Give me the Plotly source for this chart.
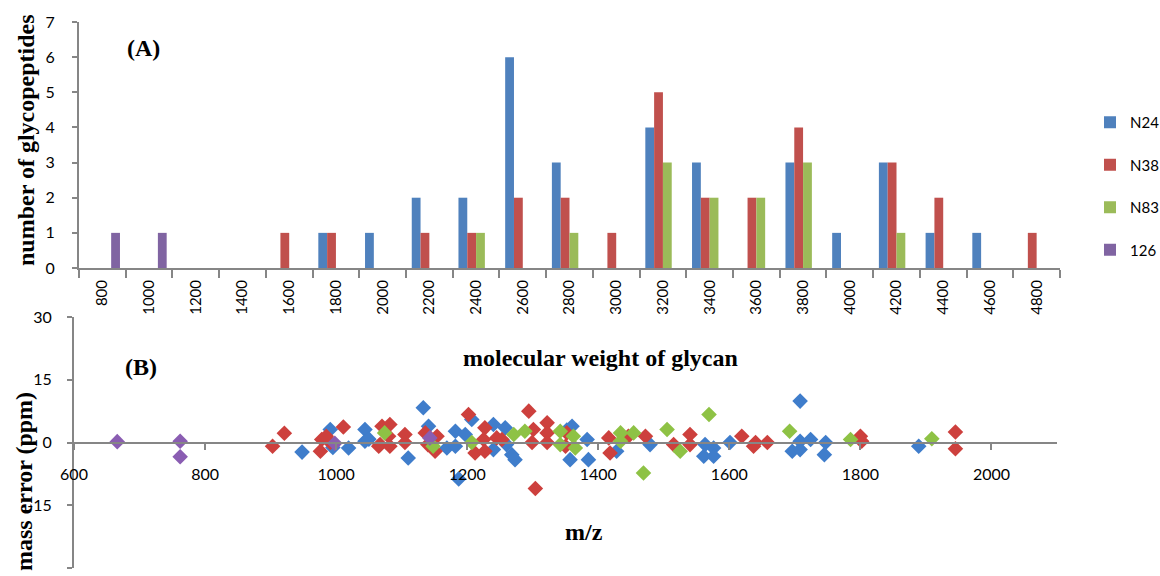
import plotly.graph_objects as go

# ---------------- data: panel A ----------------
mw_categories = ["800", "1000", "1200", "1400", "1600", "1800", "2000", "2200", "2400", "2600",
                 "2800", "3000", "3200", "3400", "3600", "3800", "4000", "4200", "4400", "4600", "4800"]
n24_counts = [0, 0, 0, 0, 0, 1, 1, 2, 2, 6, 3, 0, 4, 3, 0, 3, 1, 3, 1, 1, 0]
n38_counts = [0, 0, 0, 0, 1, 1, 0, 1, 1, 2, 2, 1, 5, 2, 2, 4, 0, 3, 2, 0, 1]
n83_counts = [0, 0, 0, 0, 0, 0, 0, 0, 1, 0, 1, 0, 3, 2, 2, 3, 0, 1, 0, 0, 0]
s126_counts = [1, 1, 0, 0, 0, 0, 0, 0, 0, 0, 0, 0, 0, 0, 0, 0, 0, 0, 0, 0, 0]
series_names = ["N24", "N38", "N83", "126"]

# ---------------- data: panel B ----------------
n24_mz = [948, 991, 995, 1019, 1044, 1044, 1050, 1110, 1133, 1141, 1169, 1182, 1182, 1187, 1197,
          1207, 1240, 1240, 1258, 1260, 1268, 1273, 1352, 1360, 1357, 1383, 1385, 1428, 1479, 1563,
          1561, 1576, 1576, 1601, 1708, 1708, 1696, 1708, 1724, 1747, 1745, 1889]
n24_err = [-2.3, 3.1, -1.2, -1.3, 3.1, 0.3, 0.8, -3.7, 8.3, 3.9, -1.3, 2.7, -0.9, -8.7, 1.9,
           5.5, 4.3, -1.7, 3.5, -0.5, -2.9, -4.1, 3.0, 3.9, -4.1, 0.7, -4.1, -2.1, -0.5, -0.5,
           -3.3, -1.3, -3.3, 0.0, 9.9, 0.3, -2.1, -1.7, 0.7, 0.0, -2.9, -0.9]
n38_mz = [903, 921, 978, 976, 991, 985, 1011, 1065, 1070, 1082, 1067, 1082, 1080, 1105, 1105,
          1136, 1154, 1151, 1140, 1202, 1212, 1227, 1225, 1227, 1245, 1253, 1294, 1301, 1299,
          1322, 1322, 1322, 1304, 1352, 1350, 1416, 1418, 1446, 1472, 1515, 1540, 1540, 1619,
          1637, 1640, 1658, 1800, 1802, 1945, 1945]
n38_err = [-0.9, 2.2, 0.7, -2.1, 0.0, 1.5, 3.7, -0.9, 3.9, 4.3, -0.5, -0.9, 1.5, 1.9, 0.0,
           2.3, 1.5, -2.1, -0.5, 6.7, -2.5, 3.5, 0.7, -2.1, 1.1, 0.7, 7.5, 3.1, 0.0,
           4.7, 2.3, 0.0, -11.0, 2.3, -0.9, 1.1, -2.5, 1.5, 1.5, -0.5, 1.9, -0.5, 1.5,
           -0.9, 0.0, 0.0, 1.5, 0.3, 2.5, -1.5]
n83_mz = [1074, 1148, 1207, 1271, 1288, 1342, 1342, 1362, 1365, 1434, 1434, 1454, 1469, 1505,
          1525, 1569, 1692, 1785, 1909]
n83_err = [2.3, -0.9, 0.0, 1.9, 2.7, 2.7, -0.5, 1.5, -1.3, 2.3, 0.3, 2.3, -7.3, 3.1,
           -2.1, 6.7, 2.7, 0.7, 0.9]
s126_mz = [666, 762, 762, 998, 1143]
s126_err = [0.2, 0.3, -3.4, -0.2, 1.1]

bar_colors = ["#4F81BD", "#C0504D", "#9BBB59", "#8064A2"]
dot_colors = ["#3F7DCB", "#CD403D", "#8EC245", "#8A5DB2"]

W, H = 1160, 576
def px_x(p):
    return p / W
def px_y(p):
    return 1 - p / H

fig = go.Figure()

counts = [n24_counts, n38_counts, n83_counts, s126_counts]
for name, vals, col in zip(series_names, counts, bar_colors):
    fig.add_trace(go.Bar(x=mw_categories, y=vals, name=name, marker_color=col,
                         marker_line_width=0, xaxis="x", yaxis="y", legendgroup=name))

scatter_sets = [(n24_mz, n24_err), (n38_mz, n38_err), (n83_mz, n83_err), (s126_mz, s126_err)]
for name, (mz, err), col in zip(series_names, scatter_sets, dot_colors):
    fig.add_trace(go.Scatter(x=mz, y=err, mode="markers", name=name, showlegend=False,
                             marker=dict(symbol="diamond", size=12, color=col, line_width=0),
                             xaxis="x2", yaxis="y2"))

axis_color = "#868686"
tick_font = dict(family="Lato, Liberation Sans, sans-serif", size=16, color="#000000")
title_font = dict(family="Liberation Serif, Times New Roman, serif", size=24, color="#000000")

fig.update_layout(
    width=W, height=H,
    margin=dict(l=0, r=0, t=0, b=0, autoexpand=False),
    paper_bgcolor="white", plot_bgcolor="white",
    barmode="group", bargap=0.246, bargroupgap=0,
    showlegend=True,
    legend=dict(x=px_x(1090), y=px_y(106), xanchor="left", yanchor="top",
                font=dict(family="Lato, Liberation Sans, sans-serif", size=15, color="#000000"),
                itemwidth=30, tracegroupgap=20, bgcolor="rgba(0,0,0,0)"),
    xaxis=dict(domain=[px_x(79), px_x(1060)], anchor="y", type="category",
               range=[-0.5, 20.5], showline=True, linecolor=axis_color, linewidth=2,
               ticks="outside", tickson="boundaries", ticklen=8, tickcolor=axis_color, tickwidth=2,
               tickangle=-90, tickfont=dict(family="Lato, Liberation Sans, sans-serif", size=15, color="#000"),
               showgrid=False, zeroline=False, ticklabelstandoff=4),
    yaxis=dict(domain=[px_y(268), px_y(22)], anchor="x", range=[0, 7], dtick=1,
               showline=True, linecolor=axis_color, linewidth=2, ticks="outside", ticklen=5,
               tickcolor=axis_color, tickwidth=2, tickfont=tick_font, showgrid=False,
               zeroline=False, ticklabelstandoff=14),
    xaxis2=dict(domain=[px_x(74), px_x(1057)], anchor="free", position=px_y(443),
                range=[600, 2100], tickvals=[600, 800, 1000, 1200, 1400, 1600, 1800, 2000],
                showline=True, linecolor=axis_color, linewidth=2, ticks="outside", ticklen=6,
                tickcolor=axis_color, tickwidth=2, tickfont=tick_font, showgrid=False,
                zeroline=False, ticklabelstandoff=11),
    yaxis2=dict(domain=[px_y(568), px_y(317)], anchor="x2", range=[-30, 30],
                tickvals=[30, 15, 0, -15, -30], ticktext=["30", "15", "0", "-15", "-30"],
                showline=True, linecolor=axis_color, linewidth=2, ticks="outside", ticklen=5,
                tickcolor=axis_color, tickwidth=2, tickfont=tick_font, showgrid=False,
                zeroline=False, ticklabelstandoff=12),
)

annots = [
    dict(text="<b>number of glycopeptides</b>", x=px_x(26), y=px_y(140), textangle=-90),
    dict(text="<b>(A)</b>", x=px_x(143), y=px_y(48), textangle=0),
    dict(text="<b>molecular weight of glycan</b>", x=px_x(600), y=px_y(358), textangle=0),
    dict(text="<b>(B)</b>", x=px_x(141), y=px_y(367), textangle=0),
    dict(text="<b>mass error (ppm)</b>", x=px_x(24), y=px_y(482), textangle=-90),
    dict(text="<b>m/z</b>", x=px_x(584), y=px_y(532), textangle=0),
]
for a in annots:
    fig.add_annotation(xref="paper", yref="paper", showarrow=False, xanchor="center",
                       yanchor="middle", font=title_font, **a)

fig.write_html("out.html")
